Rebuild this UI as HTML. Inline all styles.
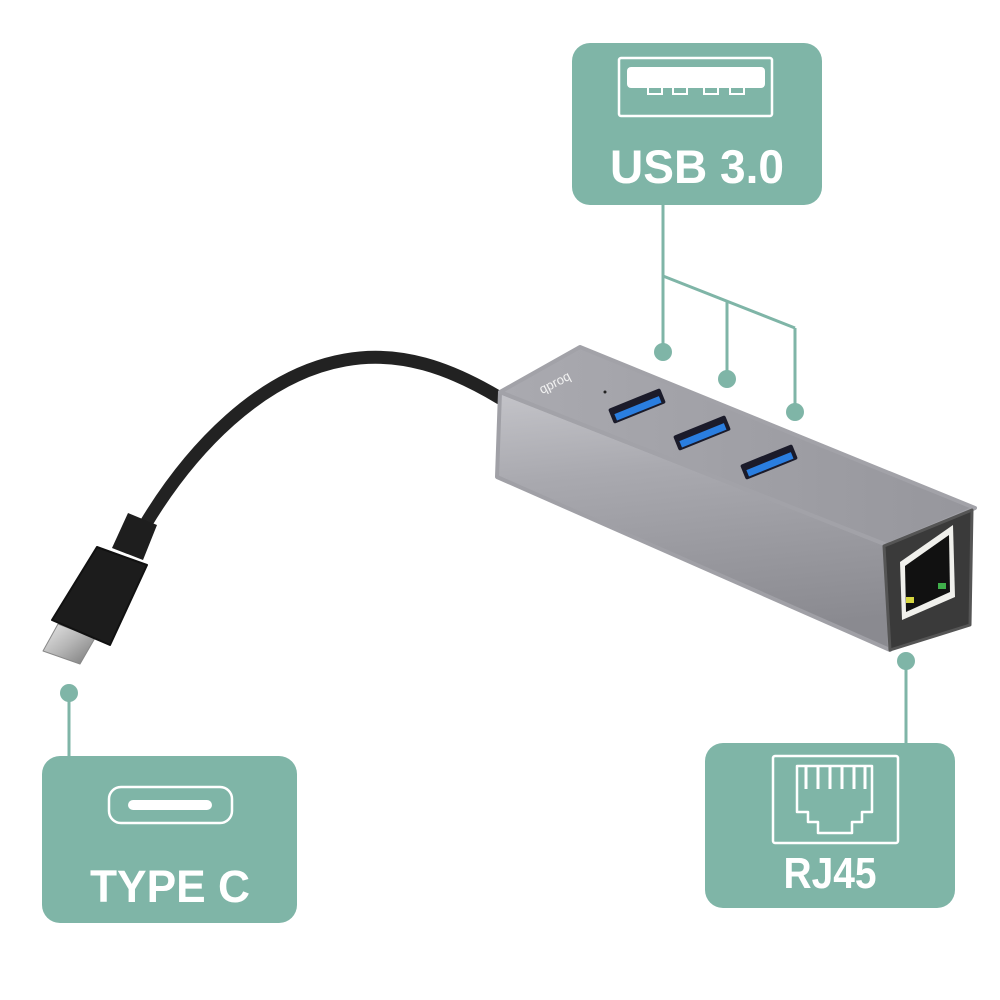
<!DOCTYPE html>
<html><head><meta charset="utf-8"><style>
html,body{margin:0;padding:0;background:#fff;}
svg{display:block;}
text{font-family:"Liberation Sans",sans-serif;font-weight:bold;fill:#fff;}
</style></head><body>
<svg width="1000" height="1000" viewBox="0 0 1000 1000" xmlns="http://www.w3.org/2000/svg">
<defs>
<linearGradient id="front" x1="0" y1="0" x2="0.15" y2="1">
<stop offset="0" stop-color="#c4c4c9"/><stop offset="0.35" stop-color="#a9a9af"/><stop offset="1" stop-color="#8a8a90"/>
</linearGradient>
<linearGradient id="top" x1="0" y1="0" x2="1" y2="0">
<stop offset="0" stop-color="#aaaab0"/><stop offset="1" stop-color="#96969c"/>
</linearGradient>
<linearGradient id="tip" x1="0" y1="0" x2="1" y2="1">
<stop offset="0" stop-color="#e8e8e8"/><stop offset="0.5" stop-color="#b5b5b5"/><stop offset="1" stop-color="#777"/>
</linearGradient>
</defs>

<g stroke="#7fb5a7" stroke-width="3" fill="none">
<line x1="663" y1="205" x2="663" y2="352"/>
<polyline points="663,276 795,328"/>
<line x1="727" y1="301" x2="727" y2="379"/>
<line x1="795" y1="328" x2="795" y2="412"/>
<line x1="69" y1="693" x2="69" y2="757"/>
<line x1="906" y1="660" x2="906" y2="744"/>
</g>
<g fill="#7fb5a7">
<circle cx="663" cy="352" r="9"/>
<circle cx="727" cy="379" r="9"/>
<circle cx="795" cy="412" r="9"/>
<circle cx="69" cy="693" r="9"/>
<circle cx="906" cy="661" r="9"/>
</g>

<path d="M500,398 C450,368 400,350 345,360 C260,375 190,450 145,525" stroke="#222" stroke-width="13" fill="none" stroke-linecap="round"/>
<polygon points="128,513 157,525 143,560 112,548" fill="#1e1e1e"/>
<polygon points="58,624 95,638 80,664 43,651" fill="url(#tip)" stroke="#888" stroke-width="1" stroke-linejoin="round"/>
<polygon points="97,547 147,565 110,645 52,620" fill="#1c1c1c" stroke="#111" stroke-width="2" stroke-linejoin="round"/>

<polygon points="500,392 887,545 890,650 497,477" fill="url(#front)" stroke="#a0a0a6" stroke-width="4" stroke-linejoin="round"/>
<polygon points="500,392 580,347 975,508 887,545" fill="url(#top)" stroke="#a2a2a8" stroke-width="4" stroke-linejoin="round"/>
<polygon points="884,546 972,510 970,625 890,650" fill="#3a3a3a" stroke="#555" stroke-width="3" stroke-linejoin="round"/>
<polygon points="900,562 953,525 955,597 902,620" fill="#f0f0ec"/>
<polygon points="905,566 949,535 950,592 906,612" fill="#111"/>
<rect x="906" y="597" width="8" height="6" fill="#d6d640"/>
<rect x="938" y="583" width="8" height="6" fill="#3fae4a"/>

<text x="555" y="387" transform="rotate(-27 555 383)" text-anchor="middle" style="font-weight:normal;font-size:13px;fill:#f2f2f2">qproq</text>
<circle cx="605" cy="392" r="1.5" fill="#222"/>

<g transform="rotate(-22 637 406)"><rect x="609" y="398" width="56" height="16" rx="2" fill="#1b1b2a"/><rect x="613" y="405" width="48" height="7" fill="#2a7ee0"/></g>
<g transform="rotate(-22 702 433)"><rect x="674" y="425" width="56" height="16" rx="2" fill="#1b1b2a"/><rect x="678" y="432" width="48" height="7" fill="#2a7ee0"/></g>
<g transform="rotate(-22 769 462)"><rect x="741" y="454" width="56" height="16" rx="2" fill="#1b1b2a"/><rect x="745" y="461" width="48" height="7" fill="#2a7ee0"/></g>

<rect x="572" y="43" width="250" height="162" rx="18" fill="#7fb5a7"/>
<rect x="619" y="58" width="153" height="58" rx="2" fill="none" stroke="#fff" stroke-width="2.5"/>
<rect x="627" y="67" width="138" height="21" rx="4" fill="#fff"/>
<g fill="none" stroke="#fff" stroke-width="2">
<rect x="648" y="87" width="14" height="7"/><rect x="673" y="87" width="14" height="7"/>
<rect x="704" y="87" width="14" height="7"/><rect x="730" y="87" width="14" height="7"/>
</g>
<text x="697" y="183" text-anchor="middle" font-size="47" textLength="174" lengthAdjust="spacingAndGlyphs">USB 3.0</text>

<rect x="42" y="756" width="255" height="167" rx="18" fill="#7fb5a7"/>
<rect x="109" y="787" width="123" height="36" rx="12" fill="none" stroke="#fff" stroke-width="2.5"/>
<rect x="128" y="800" width="84" height="10" rx="5" fill="#fff"/>
<text x="170" y="902" text-anchor="middle" font-size="45" textLength="160" lengthAdjust="spacingAndGlyphs">TYPE C</text>

<rect x="705" y="743" width="250" height="165" rx="18" fill="#7fb5a7"/>
<rect x="773" y="756" width="125" height="87" rx="2" fill="none" stroke="#fff" stroke-width="2.5"/>
<path d="M797,766 H872 V812 H862 V822 H852 V833 H818 V822 H808 V812 H797 Z" fill="none" stroke="#fff" stroke-width="2.5" stroke-linejoin="round"/>
<g stroke="#fff" stroke-width="3">
<line x1="806" y1="767" x2="806" y2="789"/><line x1="818" y1="767" x2="818" y2="789"/>
<line x1="830" y1="767" x2="830" y2="789"/><line x1="842" y1="767" x2="842" y2="789"/>
<line x1="854" y1="767" x2="854" y2="789"/><line x1="865" y1="767" x2="865" y2="789"/>
</g>
<text x="830" y="888" text-anchor="middle" font-size="44" textLength="93" lengthAdjust="spacingAndGlyphs">RJ45</text>
</svg>
</body></html>
